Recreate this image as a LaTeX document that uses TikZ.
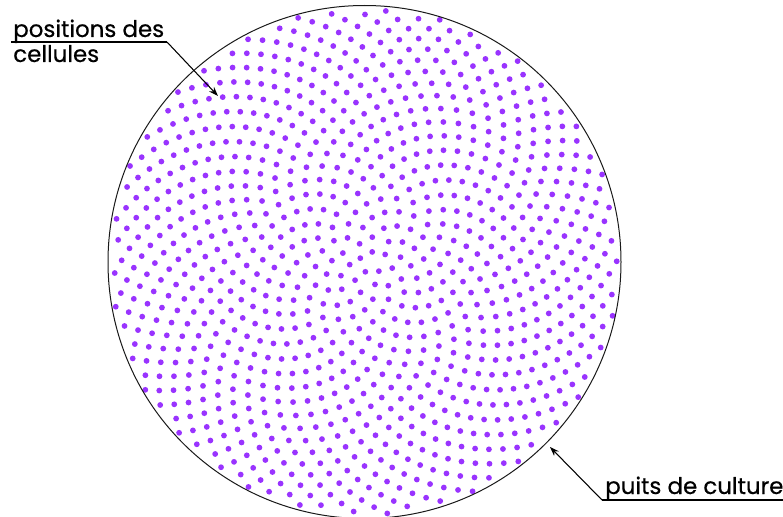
\documentclass[tikz,border=0pt]{standalone}
\usepackage{fontspec}
\usetikzlibrary{arrows.meta}
\setmainfont{Poppins}
\newfontfamily\lblfont{Poppins}[FakeBold=0.5]
\begin{document}
\begin{tikzpicture}[x=0.75pt,y=-0.75pt,
  lbl/.style={font=\lblfont\fontsize{17.2}{19}\selectfont,inner sep=0pt,anchor=base west},
  cell/.style={fill=cellc},
  ptr/.style={-{Stealth[length=7pt,width=5pt]},line width=0.8pt}]
\definecolor{cellc}{RGB}{153,51,255}
\useasboundingbox (0,0) rectangle (783,517);
\coordinate (C) at (364.5,262);
\begin{scope}[shift={(364.5,262)}]
\foreach \n in {1,...,1000}{
  \edef\rr{\fpeval{round(8.03*sqrt(\n-0.5),4)}}
  \edef\aa{\fpeval{round(-(\n*137.50776 - 360*trunc(\n*137.50776/360)),4)}}
  \fill[cell] (\aa:\rr) circle (2.9);
}
\end{scope}
\draw[line width=0.75pt,black!90] (C) circle (256.5);
\node[lbl] (t1) at (13,37) {positions des};
\node[lbl] (t2) at (13,62) {cellules};
\coordinate (u1a) at (11,42);
\coordinate (u1b) at (167,42);
\coordinate (p1) at (218,96);
\draw[line width=0.8pt] (u1a) -- (u1b);
\draw[ptr] (u1b) -- (p1);
\node[lbl] (t3) at (605,494) {puits de culture};
\coordinate (u2a) at (783,500);
\coordinate (u2b) at (602,500);
\coordinate (p2) at (550,447);
\draw[line width=0.8pt] (u2a) -- (u2b);
\draw[ptr] (u2b) -- (p2);
\end{tikzpicture}
\end{document}
